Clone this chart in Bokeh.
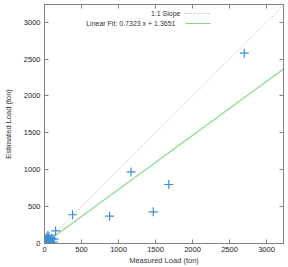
from bokeh.plotting import figure
from bokeh.models import Range1d, LinearAxis, FixedTicker, Label, Arrow, CustomJSTickFormatter
from bokeh.embed import file_html
from bokeh.resources import INLINE

measured = [2700, 1170, 1680, 1470, 880, 380, 150, 130, 120, 100, 80, 60, 50, 45, 40, 30, 25, 20, 15, 10, 5, 35, 55, 70, 90]
estimated = [2580, 970, 800, 430, 370, 390, 170, 60, 20, 70, 30, 90, 60, 110, 20, 40, 80, 15, 30, 5, 10, 50, 25, 45, 10]
fit_slope = 0.7323
fit_intercept = 1.3651
x_max = 3230
y_max = 3240
ticks = [0, 500, 1000, 1500, 2000, 2500, 3000]

font = "Liberation Sans"
fs = "7.5px"
p = figure(width=288, height=267, output_backend="svg", toolbar_location=None,
           x_range=Range1d(0, x_max), y_range=Range1d(0, y_max),
           min_border_left=44, min_border_right=5, min_border_top=4, min_border_bottom=1)
p.grid.visible = False
p.outline_line_color = "#808080"
p.background_fill_color = "white"

line_x = [0, x_max]
p.line(line_x, line_x, line_color="#a0a0a0", line_dash="1 2", line_width=1)
p.line(line_x, [fit_slope * v + fit_intercept for v in line_x], line_color="#8fd68f", line_width=1.2)
p.scatter(measured, estimated, marker="cross", size=9, line_color="#3a8fd6", line_width=1.2)

xax = p.below[0]
yax = p.left[0]
for ax in (xax, yax):
    ax.ticker = FixedTicker(ticks=ticks)
    ax.major_tick_in = 4
    ax.major_tick_out = 0
    ax.minor_tick_line_color = None
    ax.axis_line_color = "#808080"
    ax.major_tick_line_color = "#808080"
    ax.major_label_text_font = font
    ax.major_label_text_font_size = fs
    ax.major_label_text_color = "#222222"
    ax.major_label_standoff = 4
    ax.axis_label_text_font = font
    ax.axis_label_text_font_size = fs
    ax.axis_label_text_font_style = "normal"
    ax.axis_label_text_color = "#333333"

xax.major_label_standoff = 3
xax.axis_label = "Measured Load (ton)"
xax.axis_label_standoff = 1
yax.axis_label = "Estimated Load (ton)"
yax.axis_label_standoff = 8

for loc in ("above", "right"):
    a = LinearAxis(ticker=FixedTicker(ticks=ticks), major_tick_in=4, major_tick_out=0,
                   minor_tick_line_color=None, formatter=CustomJSTickFormatter(code="return ''"),
                   axis_line_color="#808080", major_tick_line_color="#808080",
                   major_label_standoff=0)
    p.add_layout(a, loc)

p.add_layout(Label(x=136, y=230, x_units="screen", y_units="screen", text="1:1 Slope",
                   text_font=font, text_font_size="7px", text_color="#333333", text_align="right",
                   text_baseline="middle"))
p.add_layout(Label(x=131, y=220, x_units="screen", y_units="screen", text="Linear Fit: 0.7323 x + 1.3651",
                   text_font=font, text_font_size="7px", text_color="#333333", text_align="right",
                   text_baseline="middle"))
p.add_layout(Arrow(x_start=140, y_start=230, x_end=165, y_end=230, start_units="screen", end_units="screen",
                   end=None, line_color="#a0a0a0", line_dash="1 2", line_width=1))
p.add_layout(Arrow(x_start=141, y_start=220, x_end=166, y_end=220, start_units="screen", end_units="screen",
                   end=None, line_color="#8fd68f", line_width=1.2))

open("out.html", "w").write(file_html(p, INLINE))
